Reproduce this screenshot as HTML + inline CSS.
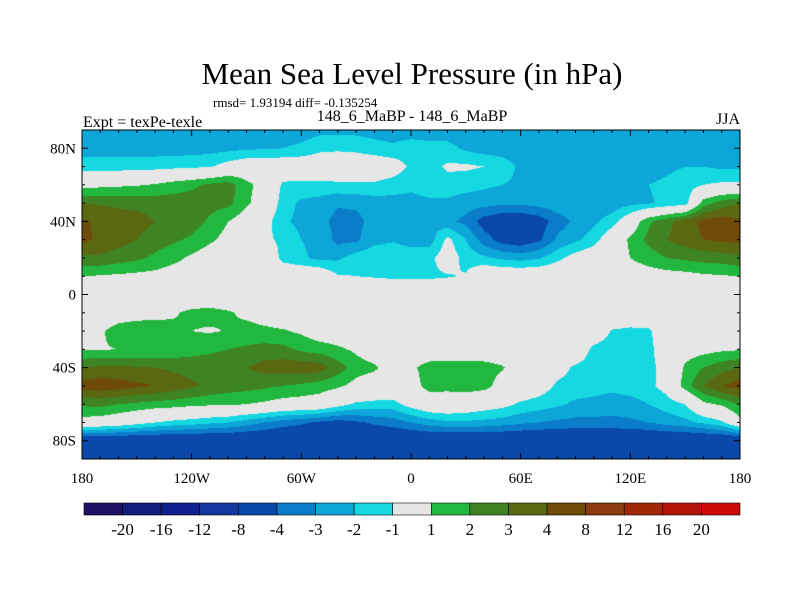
<!DOCTYPE html>
<html><head><meta charset="utf-8"><style>
body{margin:0;background:#fff;width:800px;height:600px;overflow:hidden;position:relative;font-family:"Liberation Serif",serif;}
canvas{position:absolute;left:82px;top:130px;}
svg{position:absolute;left:0;top:0;}
</style></head><body>
<canvas id="map" width="658" height="329"></canvas>
<svg id="ov" width="800" height="600">
<text x="412" y="84" font-size="31" text-anchor="middle">Mean Sea Level Pressure (in hPa)</text>
<text x="213" y="107" font-size="13">rmsd= 1.93194 diff= -0.135254</text>
<text x="83" y="127" font-size="16">Expt = texPe-texle</text>
<text x="412" y="121" font-size="16" text-anchor="middle">148_6_MaBP - 148_6_MaBP</text>
<text x="740" y="124" font-size="16" text-anchor="end">JJA</text>
<rect x="82" y="130" width="658" height="329" fill="none" stroke="#000" stroke-width="1"/>
<g id="ticks"></g>
<g id="cbar"></g>
</svg>
<script>
const lons=[-180,-170,-160,-150,-140,-130,-120,-110,-100,-90,-80,-70,-60,-50,-40,-30,-20,-10,0,10,20,30,40,50,60,70,80,90,100,110,120,130,140,150,160,170,180];
const lats=[90,80,70,60,50,40,30,20,10,0,-10,-20,-30,-40,-50,-60,-70,-80,-90];
const r90N=[-2.5,-2.5,-2.5,-2.5,-2.5,-2.5,-2.5,-2.5,-2.5,-2.5,-2.5,-2.5,-2.5,-2.3,-2.3,-2.3,-2.4,-2.5,-2.5,-2.5,-2.5,-2.5,-2.5,-2.5,-2.5,-2.5,-2.5,-2.5,-2.5,-2.5,-2.5,-2.5,-2.5,-2.5,-2.5,-2.5,-2.5];
const r80N=[-2.5,-2.5,-2.5,-2.5,-2.5,-2.5,-2.5,-2.4,-2.3,-2.2,-2.1,-2.0,-1.8,-1.3,-1.2,-1.3,-1.6,-1.8,-1.5,-1.7,-1.7,-2.2,-2.5,-2.5,-2.5,-2.5,-2.5,-2.5,-2.5,-2.5,-2.5,-2.5,-2.5,-2.5,-2.5,-2.5,-2.5];
const r70N=[-1.5,-1.5,-1.5,-1.5,-1.4,-1.3,-1.2,-1.1,-0.5,0,0,0,0,0,0,0,0,-0.3,-1.2,-1.5,-0.8,-0.8,-1.0,-1.5,-2.2,-2.5,-2.5,-2.5,-2.5,-2.5,-2.5,-2.5,-2.2,-2.0,-2.0,-2.2,-2.2];
const r60N=[0.5,0.7,0.8,0.9,1.1,1.5,1.8,2.2,2.5,1.3,0.5,-1.2,-1.3,-1.3,-1.2,-1.2,-1.2,-1.5,-1.8,-1.5,-1.5,-1.6,-1.8,-2.0,-2.2,-2.3,-2.3,-2.4,-2.3,-2.2,-2.2,-2.0,-1.8,-1.5,-1.0,-0.8,-0.8];
const r50N=[3.0,2.9,2.8,2.7,2.6,2.5,2.5,2.4,2.3,1.2,0.3,-1.5,-2.2,-2.4,-2.9,-2.8,-2.5,-2.4,-2.3,-2.2,-2.2,-2.5,-2.6,-2.8,-2.8,-2.6,-2.4,-2.3,-2.8,-2.6,-2.3,-2.1,-1.8,-1.5,1.5,2.5,3.0];
const r40N=[4.2,3.7,3.5,3.4,3.0,2.7,2.5,1.8,1.0,0.3,-0.5,-1.8,-2.3,-2.7,-3.3,-3.3,-2.6,-2.5,-2.2,-2.3,-2.7,-3.3,-4.5,-5.0,-5.0,-4.6,-3.5,-2.8,-2.2,-1.5,0,1.8,2.7,3.5,4.3,4.5,4.2];
const r30N=[4.3,3.8,3.4,3.0,2.5,2.2,1.8,1.2,0.6,0.3,-0.8,-1.2,-2.0,-2.3,-3.3,-3.2,-2.3,-2.1,-2.3,-2.5,-0.7,-2.0,-3.5,-4.5,-4.8,-4.2,-2.8,-2.2,-1.5,0,1.2,2.3,3.0,3.5,4.0,4.2,4.3];
const r20N=[2.8,2.8,2.5,2.2,1.8,1.3,0.8,0.3,0.3,0.3,0.3,-1.4,-1.8,-2.3,-2.2,-1.5,-1.3,-1.4,-1.6,-1.3,-0.3,-1.4,-1.8,-2.2,-2.4,-2.1,-1.3,-0.5,0,0.3,1.0,1.5,2.0,2.2,2.4,2.5,2.8];
const r10N=[1.0,0.9,0.8,0.7,0.6,0.4,0.3,0.2,0.2,0.2,0.2,0.2,0.2,0.2,-0.9,-1.0,-1.1,-1.2,-1.2,-1.2,-1.1,-0.9,0.3,0.2,0.2,0.2,0.2,0.2,0.2,0.2,0.3,0.4,0.5,0.6,0.8,0.9,1.0];
const r0=[0.2,0.2,0.2,0.2,0.2,0.2,0.2,0.2,0.2,0.2,0.2,0.2,0.2,0.2,0.2,0.2,0.2,0.2,0.2,0.2,0.2,0.2,0.2,0.2,0.2,0.2,0.2,0.2,0.2,0.2,0.2,0.2,0.2,0.2,0.2,0.2,0.2];
const r10S=[0.3,0.4,0.6,0.7,0.8,0.9,1.2,1.3,1.1,0.8,0.5,0.2,0.2,0.2,0.2,0.2,0.2,0.2,0.2,0.2,0.2,0.2,0.2,0.2,0.2,0.2,0.2,0.2,0.2,0.2,0.2,0.2,0.2,0.2,0.2,0.2,0.3];
const r20S=[0.5,0.9,1.3,1.4,1.3,1.2,1.0,0.9,1.05,1.3,1.2,1.1,0.8,0.3,0.2,0.2,0.2,0.2,0.2,0.2,0.2,0.2,0.2,0.2,0.2,0.2,0.2,0.2,0,-1.1,-1.3,-1.2,0,0.2,0.2,0.2,0.5];
const r30S=[0.9,0.95,1.0,1.05,1.1,1.3,1.6,1.8,2.0,2.2,2.4,2.3,1.8,1.5,1.2,0.8,0.2,0.2,0.2,0.2,0.2,0.2,0.2,0.2,0.2,0.2,0.2,0,-1.3,-1.6,-1.6,-1.4,0,0.4,0.6,0.8,0.9];
const r40S=[3.0,3.2,3.2,3.1,3.0,2.8,2.6,2.6,2.7,3.0,3.4,3.6,3.7,3.5,2.5,1.5,1.2,0.3,0.8,1.4,1.5,1.5,1.4,1.1,0.3,0,-0.5,-1.2,-1.5,-1.4,-1.6,-1.3,-0.6,1.2,2.0,2.6,3.0];
const r50S=[4.5,4.6,4.5,4.2,4.0,3.6,3.2,2.8,2.5,2.4,2.2,2.0,1.8,1.5,1.2,0.6,0.2,0.2,0.5,1.4,1.3,1.5,1.4,0.5,0.2,-0.3,-1.2,-1.4,-1.6,-1.7,-1.5,-1.3,-0.5,1.5,3.0,4.0,4.5];
const r60S=[2.2,2.3,2.0,1.8,1.6,1.5,1.3,1.2,1.2,1.0,0.8,0.5,0.4,0.3,-0.5,-1.2,-1.3,-1.4,-0.5,0.2,0.3,0.1,-0.3,-0.6,-1.2,-1.5,-1.8,-2.2,-2.3,-2.5,-2.4,-2.0,-1.5,-1.0,0.7,1.2,2.2];
const r70S=[0.5,0.3,0,-0.5,-1.0,-1.3,-1.5,-1.8,-2.0,-2.5,-3.0,-3.5,-3.8,-4.2,-4.5,-4.2,-3.8,-3.5,-3.0,-2.5,-2.2,-2.2,-2.3,-2.5,-2.8,-3.0,-3.2,-3.3,-3.3,-3.3,-3.2,-3.0,-2.6,-2.3,-1.8,-1.2,0.5];
const r80S=[-5.5,-5.5,-5.5,-5.5,-5.5,-5.5,-5.5,-5.5,-5.5,-5.5,-5.5,-5.5,-5.5,-5.5,-5.5,-5.5,-5.5,-5.5,-5.5,-5.5,-5.5,-5.5,-5.5,-5.5,-5.5,-5.5,-5.5,-5.5,-5.5,-5.5,-5.5,-5.5,-5.5,-5.5,-5.5,-5.5,-5.5];
const r90S=[-6,-6,-6,-6,-6,-6,-6,-6,-6,-6,-6,-6,-6,-6,-6,-6,-6,-6,-6,-6,-6,-6,-6,-6,-6,-6,-6,-6,-6,-6,-6,-6,-6,-6,-6,-6,-6];
const grid=[r90N,r80N,r70N,r60N,r50N,r40N,r30N,r20N,r10N,r0,r10S,r20S,r30S,r40S,r50S,r60S,r70S,r80S,r90S];
const levels=[-20,-16,-12,-8,-4,-3,-2,-1,1,2,3,4,8,12,16,20];
const levelLabels=["-20","-16","-12","-8","-4","-3","-2","-1","1","2","3","4","8","12","16","20"];
const colors=["#1e1064","#141c7c","#10208c","#1438a0","#0a48aa","#0a7cc8","#0ca6d8","#16d8e0","#e6e6e6","#22b840","#3e8424","#5a6812","#6e4c08","#8c3c10","#a02808","#b41408","#cc0808"];
const lonTickLabels=["180","120W","60W","0","60E","120E","180"];
const lonTickVals=[-180,-120,-60,0,60,120,180];
const latTickLabels=["80N","40N","0","40S","80S"];
const latTickVals=[80,40,0,-40,-80];

const MX=82,MY=130,MW=658,MH=329;
const xOf=lon=>MX+(lon+180)/360*MW;
const yOf=lat=>MY+(90-lat)/180*MH;
function hex(c){return [parseInt(c.slice(1,3),16),parseInt(c.slice(3,5),16),parseInt(c.slice(5,7),16)];}
const rgb=colors.map(hex);
function colorIdx(v){let i=0;while(i<levels.length&&v>=levels[i])i++;return i;}
function val(lon,lat){
  let fi=(lon-lons[0])/10, fj=(lats[0]-lat)/10;
  fi=Math.max(0,Math.min(lons.length-1.0001,fi)); fj=Math.max(0,Math.min(lats.length-1.0001,fj));
  const i=Math.floor(fi),j=Math.floor(fj),a=fi-i,b=fj-j;
  const g=grid;
  return (1-a)*(1-b)*g[j][i]+a*(1-b)*g[j][i+1]+(1-a)*b*g[j+1][i]+a*b*g[j+1][i+1];
}
const cv=document.getElementById('map'),ctx=cv.getContext('2d');
const img=ctx.createImageData(MW,MH);
for(let py=0;py<MH;py++){const lat=90-(py+0.5)/MH*180;
  for(let px=0;px<MW;px++){const lon=-180+(px+0.5)/MW*360;
    const c=rgb[colorIdx(val(lon,lat))];const k=(py*MW+px)*4;
    img.data[k]=c[0];img.data[k+1]=c[1];img.data[k+2]=c[2];img.data[k+3]=255;}}
ctx.putImageData(img,0,0);

const NS='http://www.w3.org/2000/svg';
function mk(tag,attrs,parent){const e=document.createElementNS(NS,tag);for(const k in attrs)e.setAttribute(k,attrs[k]);parent.appendChild(e);return e;}
const tg=document.getElementById('ticks');
for(let lon=-180;lon<=180;lon+=10){
  const L=(lon%60===0)?6:3;const x=xOf(lon);
  const t1=mk('line',{x1:x,y1:MY,x2:x,y2:MY+L,stroke:'#000'},tg);
  
  
  const t2=mk('line',{x1:x,y1:MY+MH,x2:x,y2:MY+MH-L,stroke:'#000'},tg);
  
  
}
for(let lat=-80;lat<=80;lat+=10){
  const L=(lat%40===0)?6:3;const y=yOf(lat);
  const t1=mk('line',{x1:MX,y1:y,x2:MX+L,y2:y,stroke:'#000'},tg);
  
  
  const t2=mk('line',{x1:MX+MW,y1:y,x2:MX+MW-L,y2:y,stroke:'#000'},tg);
  
  
}
lonTickVals.forEach((v,i)=>{const t=mk('text',{x:xOf(v),y:483,'font-size':15,'text-anchor':'middle'},tg);t.textContent=lonTickLabels[i];
  
  });
latTickVals.forEach((v,i)=>{const t=mk('text',{x:76,y:yOf(v)+5,'font-size':15,'text-anchor':'end'},tg);t.textContent=latTickLabels[i];
  
  });

const cb=document.getElementById('cbar');
const CX=84,CY=503,CW=656,CH=12,bw=CW/colors.length;
colors.forEach((c,i)=>{const r=mk('rect',{x:CX+i*bw,y:CY,width:bw,height:CH,fill:c,stroke:'#000','stroke-width':0.6},cb);
  
  });
levelLabels.forEach((s,i)=>{const t=mk('text',{x:CX+(i+1)*bw,y:535,'font-size':17,'text-anchor':'middle'},cb);t.textContent=s;
  
  });
</script>
</body></html>
